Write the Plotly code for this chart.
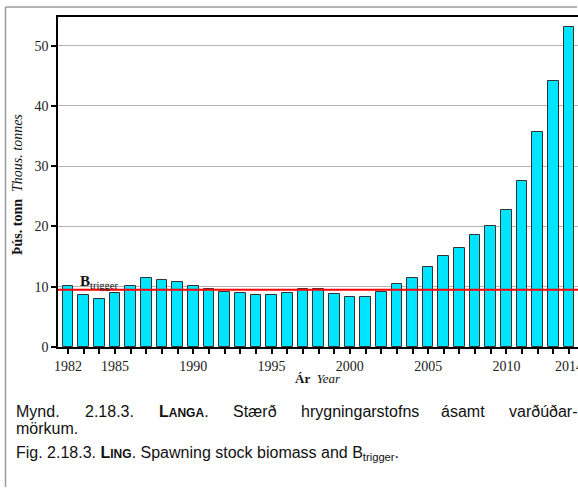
import plotly.graph_objects as go

years = list(range(1982, 2015))
ssb = [10.1, 8.7, 8.0, 8.9, 10.2, 11.5, 11.2, 10.8, 10.1, 9.6, 9.2, 8.9, 8.7, 8.7, 9.0,
       9.6, 9.6, 8.8, 8.3, 8.3, 9.2, 10.4, 11.5, 13.3, 15.1, 16.5, 18.6, 20.1, 22.8,
       27.6, 35.7, 44.2, 53.1]
btrigger = 9.5
label_years = [1982, 1985, 1990, 1995, 2000, 2005, 2010, 2014]
y_ticks = [0, 10, 20, 30, 40, 50]

W, H = 578, 488
L, R, T, B = 58, 0, 17, 141
PW = W - L - R
PH = H - T - B


def px(x):
    return (x - L) / PW


def py(y):
    return (H - B - y) / PH


serif = "Liberation Serif"
sans = "Liberation Sans"

fig = go.Figure()
fig.add_trace(go.Bar(
    x=years, y=ssb, width=0.68,
    marker=dict(color="#00E5FF", line=dict(color="#333333", width=1)),
    showlegend=False,
))

fig.add_shape(type="line", xref="paper", yref="y", x0=0, x1=1, y0=btrigger, y1=btrigger,
              line=dict(color="#FF0000", width=2))

# outer frame (left and top edges visible)
fig.add_shape(type="line", xref="paper", yref="paper", x0=px(5.5), x1=px(5.5), y0=py(7), y1=py(487),
              line=dict(color="#9a9a9a", width=1.5), layer="above")
fig.add_shape(type="line", xref="paper", yref="paper", x0=px(5.5), x1=px(577), y0=py(7), y1=py(7),
              line=dict(color="#9a9a9a", width=1.5), layer="above")

ann = []


def add(x, y, text, font, xanchor="center", yanchor="middle", angle=0):
    ann.append(dict(x=px(x), y=py(y), xref="paper", yref="paper", text=text,
                    showarrow=False, font=font, xanchor=xanchor, yanchor=yanchor,
                    textangle=angle))


add(18, 185, "<b>Þús. tonn</b>  <i>Thous. tonnes</i>",
    dict(family=serif, size=14, color="#111"), angle=-90)
add(318, 378, "<b>Ár</b>  <i>Year</i>", dict(family=serif, size=13, color="#111"))
add(78, 282, "<b>B</b><sub>trigger</sub>", dict(family=serif, size=15, color="#111"),
    xanchor="left")

cap_font = dict(family=sans, size=16, color="#111")
line1 = [(14, "Mynd."), (83, "2.18.3."),
         (157, "<b>L<span style='font-size:12px'>ANGA</span></b>."),
         (231, "Stærð"), (299, "hrygningarstofns"), (439, "ásamt"), (507, "varðúðar-")]
for xx, t in line1:
    add(xx, 411, t, cap_font, xanchor="left")
add(14, 428, "mörkum.", cap_font, xanchor="left")
add(14, 453, "Fig. 2.18.3. <b>L<span style='font-size:12px'>ING</span></b>. Spawning stock biomass and B<sub>trigger</sub>.",
    cap_font, xanchor="left")

fig.update_layout(
    width=W, height=H,
    margin=dict(l=L, r=R, t=T, b=B, pad=0, autoexpand=False),
    paper_bgcolor="white", plot_bgcolor="white",
    annotations=ann,
    bargap=0,
)
fig.update_xaxes(
    range=[1981.36, 2014.57],
    tickvals=years,
    ticktext=[str(y) if y in label_years else "" for y in years],
    ticks="outside", ticklen=5, tickwidth=1.5, tickcolor="black",
    showline=True, linecolor="black", linewidth=2, mirror=True,
    showgrid=False, zeroline=False, ticklabeloverflow="allow", automargin=False,
    tickfont=dict(family=serif, size=14, color="#222"),
)
fig.update_yaxes(
    range=[0, 54.76],
    tickvals=y_ticks,
    ticks="outside", ticklen=5, tickwidth=1.5, tickcolor="black",
    showline=True, linecolor="black", linewidth=1.5,
    showgrid=True, gridcolor="#b4b4b4", gridwidth=1,
    zeroline=False, automargin=False,
    tickfont=dict(family=serif, size=14, color="#222"),
)

fig.write_html("out.html", config={"displayModeBar": False},
               post_script="document.body.style.margin='0';")
